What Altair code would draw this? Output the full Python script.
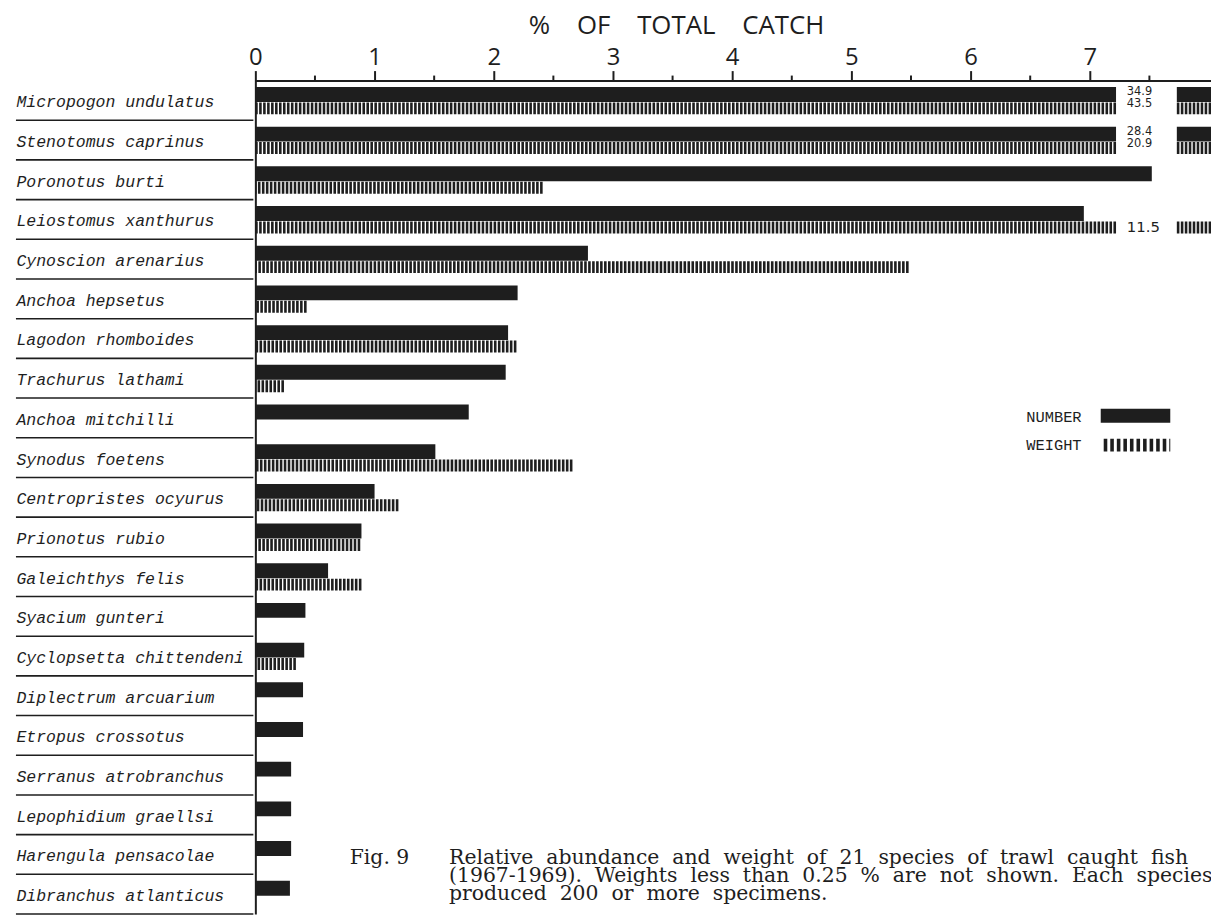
import altair as alt
import pandas as pd

# ---------------- data ----------------
SPECIES = [
    "Micropogon undulatus", "Stenotomus caprinus", "Poronotus burti",
    "Leiostomus xanthurus", "Cynoscion arenarius", "Anchoa hepsetus",
    "Lagodon rhomboides", "Trachurus lathami", "Anchoa mitchilli",
    "Synodus foetens", "Centropristes ocyurus", "Prionotus rubio",
    "Galeichthys felis", "Syacium gunteri", "Cyclopsetta chittendeni",
    "Diplectrum arcuarium", "Etropus crossotus", "Serranus atrobranchus",
    "Lepophidium graellsi", "Harengula pensacolae", "Dibranchus atlanticus",
]
NUMBER_PCT = [34.9, 28.4, 7.52, 6.95, 2.79, 2.20, 2.12, 2.10, 1.79, 1.51, 1.00,
              0.89, 0.61, 0.42, 0.41, 0.40, 0.40, 0.30, 0.30, 0.30, 0.29]
WEIGHT_PCT = [43.5, 20.9, 2.41, 11.5, 5.48, 0.43, 2.19, 0.24, 0.0, 2.66, 1.20,
              0.88, 0.89, 0.0, 0.34, 0.0, 0.0, 0.0, 0.0, 0.0, 0.0]
X_TICKS = [0, 1, 2, 3, 4, 5, 6, 7]
X_MINOR = [0.5, 1.5, 2.5, 3.5, 4.5, 5.5, 6.5, 7.5]
NB = "\u00a0"
AXIS_TITLE = f"%{NB*4}OF{NB*4}TOTAL{NB*4}CATCH"
LEGEND_LABELS = ["NUMBER", "WEIGHT"]
CAPTION_FIG = "Fig. 9"
CAPTION_WORDS = [
    "Relative abundance and weight of 21 species of trawl caught fish",
    "(1967-1969). Weights less than 0.25 % are not shown. Each species",
    "produced 200 or more specimens.",
]
CAPTION_LINES = [(" " + NB).join(line.split(" ")) for line in CAPTION_WORDS]

# ---------------- layout / style ----------------
PX_PER_UNIT = 120.0
PLOT_W = 962
PLOT_H = 839
ROW_H = PLOT_H / len(SPECIES)
X_MAX = PLOT_W / PX_PER_UNIT
BREAK_AT = 7.22      # where off-scale bars are interrupted
LABEL_AT = 7.31      # where the true value is printed
STUB_AT = 7.73       # start of the continuation stub
INK = "#1e1e1e"

df = pd.DataFrame({"species": SPECIES, "number": NUMBER_PCT, "weight": WEIGHT_PCT})
xscale = alt.Scale(domain=[0, X_MAX], nice=False, zero=False)
yscale = alt.Scale(domain=SPECIES, paddingInner=0, paddingOuter=0)

x_axis = alt.Axis(
    orient="top", values=X_TICKS, format="d", grid=False,
    tickSize=10, tickWidth=2, tickColor=INK,
    domainColor=INK, domainWidth=2,
    labelFont="Open Sans", labelFontSize=24, labelColor=INK,
    labelBaseline="alphabetic", labelPadding=6, labelFlush=False,
)
y_axis = alt.Axis(
    orient="left", ticks=False, grid=False,
    domainColor=INK, domainWidth=2,
    labelFont="Liberation Mono", labelFontStyle="italic", labelFontSize=16.6,
    labelColor=INK, labelAlign="left", labelBaseline="middle",
    labelPadding=241, labelOffset=2, labelLimit=400,
)


def Y():
    return alt.Y("species:N", sort=SPECIES, scale=yscale, bandPosition=0,
                 axis=y_axis, title=None)


def Xf(field):
    return alt.X(field, scale=xscale, axis=x_axis, title=None)


def Xd(value):
    return alt.X(datum=value, scale=xscale, axis=x_axis, title=None)


base = alt.Chart(df)
broken_num = f"datum.number > {X_MAX}"
broken_wt = f"datum.weight > {X_MAX}"

separators = base.mark_rule(strokeWidth=1.6, color=INK, yOffset=ROW_H).encode(
    y=Y(), x=alt.value(-241), x2=alt.value(-2),
)

number_bars = base.transform_calculate(
    drawn=f"{broken_num} ? {BREAK_AT} : datum.number"
).mark_rule(strokeWidth=15, color=INK, yOffset=14, strokeCap="butt").encode(
    y=Y(), x=Xf("drawn:Q"), x2=alt.datum(0),
)

weight_bars = base.transform_filter("datum.weight > 0").transform_calculate(
    drawn=f"{broken_wt} ? {BREAK_AT} : datum.weight"
).mark_rule(strokeWidth=12, color=INK, yOffset=28, strokeCap="butt",
            strokeDash=[2.6, 1.4]).encode(
    y=Y(), x=Xf("drawn:Q"), x2=alt.datum(0),
)

number_stub = base.transform_filter(broken_num).mark_rule(
    strokeWidth=15, color=INK, yOffset=14, strokeCap="butt").encode(
    y=Y(), x=Xd(STUB_AT), x2=alt.datum(X_MAX),
)
weight_stub = base.transform_filter(broken_wt).mark_rule(
    strokeWidth=12, color=INK, yOffset=28, strokeCap="butt",
    strokeDash=[2.6, 1.4]).encode(
    y=Y(), x=Xd(STUB_AT), x2=alt.datum(X_MAX),
)

number_label = base.transform_filter(broken_num).mark_text(
    align="left", baseline="middle", yOffset=12, font="DejaVu Sans",
    fontSize=11.5, color=INK).encode(
    y=Y(), x=Xd(LABEL_AT), text=alt.Text("number:Q", format=".1f"),
)
weight_label_small = base.transform_filter(
    f"{broken_wt} && {broken_num}").mark_text(
    align="left", baseline="middle", yOffset=23.5, font="DejaVu Sans",
    fontSize=11.5, color=INK).encode(
    y=Y(), x=Xd(LABEL_AT), text=alt.Text("weight:Q", format=".1f"),
)
weight_label_big = base.transform_filter(
    f"{broken_wt} && !({broken_num})").mark_text(
    align="left", baseline="middle", yOffset=28, font="DejaVu Sans",
    fontSize=15, color=INK).encode(
    y=Y(), x=Xd(LABEL_AT), text=alt.Text("weight:Q", format=".1f"),
)

minor_ticks = alt.Chart(pd.DataFrame({"v": X_MINOR})).mark_rule(
    strokeWidth=2, color=INK).encode(
    x=Xf("v:Q"), y=alt.value(-5), y2=alt.value(0),
)

title = alt.Chart(pd.DataFrame({"t": [AXIS_TITLE]})).mark_text(
    font="Open Sans", fontSize=26, color=INK, align="center", baseline="middle").encode(
    x=alt.value(424), y=alt.value(-55), text="t:N")

leg_df = pd.DataFrame({"label": LEGEND_LABELS})
leg_num_text = alt.Chart(leg_df).transform_filter(f"datum.label == '{LEGEND_LABELS[0]}'").mark_text(
    font="Liberation Mono", fontSize=15.5, color=INK, align="left", baseline="middle").encode(
    x=alt.value(776), y=alt.value(339), text="label:N")
leg_wt_text = alt.Chart(leg_df).transform_filter(f"datum.label == '{LEGEND_LABELS[1]}'").mark_text(
    font="Liberation Mono", fontSize=15.5, color=INK, align="left", baseline="middle").encode(
    x=alt.value(776), y=alt.value(367), text="label:N")
leg_num_sw = alt.Chart(leg_df).transform_filter(f"datum.label == '{LEGEND_LABELS[0]}'").mark_rule(
    strokeWidth=14, color=INK, strokeCap="butt").encode(
    x=alt.value(851), x2=alt.value(921), y=alt.value(337.5))
leg_wt_sw = alt.Chart(leg_df).transform_filter(f"datum.label == '{LEGEND_LABELS[1]}'").mark_rule(
    strokeWidth=13, color=INK, strokeCap="butt", strokeDash=[3.6, 3.0]).encode(
    x=alt.value(854), x2=alt.value(921), y=alt.value(367))

cap_df = pd.DataFrame({"fig": [CAPTION_FIG]})
cap_fig = alt.Chart(cap_df).mark_text(
    font="DejaVu Serif", fontSize=20.5, color=INK,
    align="left", baseline="top").encode(
    x=alt.value(95), y=alt.value(773), text="fig:N")
cap_body = alt.Chart(cap_df).mark_text(
    font="DejaVu Serif", fontSize=20.5, color=INK,
    align="left", baseline="top", lineHeight=18).encode(
    x=alt.value(195), y=alt.value(773), text=alt.value(CAPTION_LINES))

chart = alt.layer(
    separators, number_bars, weight_bars, number_stub, weight_stub,
    number_label, weight_label_small, weight_label_big, minor_ticks, title,
    leg_num_text, leg_wt_text, leg_num_sw, leg_wt_sw, cap_fig, cap_body,
).properties(
    width=PLOT_W, height=PLOT_H,
    autosize=alt.AutoSizeParams(type="none"),
    padding={"left": 249, "top": 70, "right": 0, "bottom": 0},
    background="white",
).configure_view(strokeWidth=0)

chart.save("out.html", embed_options={"renderer": "svg", "actions": False})
